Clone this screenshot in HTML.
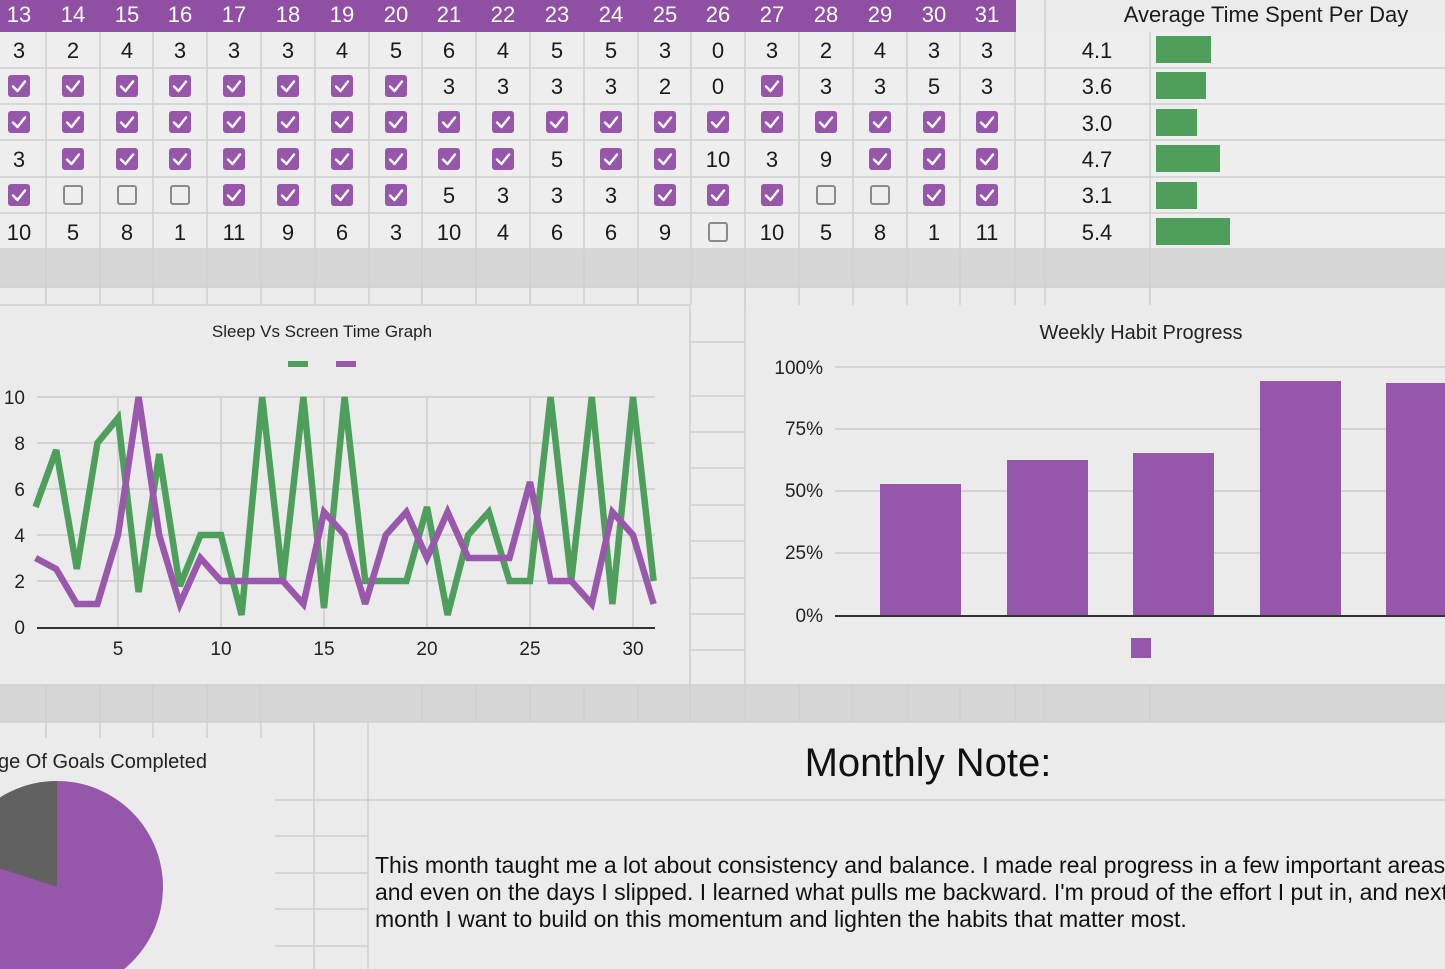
<!DOCTYPE html>
<html><head><meta charset="utf-8"><style>
html,body{margin:0;padding:0;background:#ebebeb;}
svg{display:block;font-family:"Liberation Sans",Arial,sans-serif;}
</style></head><body>
<svg width="1445" height="969" viewBox="0 0 1445 969" xmlns="http://www.w3.org/2000/svg">
<defs>
<symbol id="c" viewBox="0 0 22 22" width="22" height="22"><rect x="0" y="0" width="22" height="22" rx="3" fill="#9656aa"/><path d="M5 11.5 L9.5 16 L17 6.5" stroke="#fff" stroke-width="2.4" fill="none" stroke-linecap="round" stroke-linejoin="round"/></symbol>
<symbol id="e" viewBox="0 0 22 22" width="22" height="22"><rect x="2" y="2" width="18" height="18" rx="2" fill="none" stroke="#8a8a8a" stroke-width="2"/></symbol>
</defs>
<rect width="1445" height="969" fill="#ebebeb"/>
<rect x="0" y="32" width="1445" height="218" fill="#eeeeee"/>
<rect x="0" y="250" width="1445" height="37" fill="#d6d6d6"/>
<rect x="0" y="685" width="1445" height="37" fill="#d6d6d6"/>
<rect x="0" y="0" width="1016" height="32" fill="#8f4fa3"/>
<g stroke="#cfcfcf" stroke-width="1.5">
<line x1="0" y1="68" x2="1445" y2="68"/><line x1="0" y1="104" x2="1445" y2="104"/><line x1="0" y1="140" x2="1445" y2="140"/><line x1="0" y1="177" x2="1445" y2="177"/><line x1="0" y1="213" x2="1445" y2="213"/><line x1="0" y1="249" x2="1445" y2="249"/><line x1="0" y1="287" x2="1445" y2="287"/><line x1="0" y1="305" x2="690" y2="305"/>
<line x1="0" y1="685" x2="1445" y2="685"/><line x1="0" y1="722" x2="1445" y2="722"/><line x1="275" y1="800" x2="1445" y2="800"/>
<line x1="275" y1="836" x2="368" y2="836"/><line x1="275" y1="873" x2="368" y2="873"/><line x1="275" y1="909" x2="368" y2="909"/><line x1="275" y1="946" x2="368" y2="946"/>
<line x1="690" y1="342" x2="745" y2="342"/><line x1="690" y1="396" x2="745" y2="396"/><line x1="690" y1="432" x2="745" y2="432"/><line x1="690" y1="468" x2="745" y2="468"/><line x1="690" y1="505" x2="745" y2="505"/><line x1="690" y1="541" x2="745" y2="541"/><line x1="690" y1="578" x2="745" y2="578"/><line x1="690" y1="614" x2="745" y2="614"/><line x1="690" y1="650" x2="745" y2="650"/>
<line x1="1045" y1="0" x2="1045" y2="305"/><line x1="1150" y1="32" x2="1150" y2="305"/>
<line x1="690" y1="305" x2="690" y2="722"/><line x1="745" y1="287" x2="745" y2="722"/><line x1="368" y1="722" x2="368" y2="969"/><line x1="314" y1="722" x2="314" y2="969"/>
<line x1="1150" y1="685" x2="1150" y2="722"/><line x1="1045" y1="685" x2="1045" y2="722"/>
</g>
<g stroke="#cfcfcf" stroke-width="1.5">
<line x1="46" y1="32" x2="46" y2="305"/><line x1="100" y1="32" x2="100" y2="305"/><line x1="153" y1="32" x2="153" y2="305"/><line x1="207" y1="32" x2="207" y2="305"/><line x1="261" y1="32" x2="261" y2="305"/><line x1="315" y1="32" x2="315" y2="305"/><line x1="369" y1="32" x2="369" y2="305"/><line x1="422" y1="32" x2="422" y2="305"/><line x1="476" y1="32" x2="476" y2="305"/><line x1="530" y1="32" x2="530" y2="305"/><line x1="584" y1="32" x2="584" y2="305"/><line x1="638" y1="32" x2="638" y2="305"/><line x1="691" y1="32" x2="691" y2="305"/><line x1="745" y1="32" x2="745" y2="305"/><line x1="799" y1="32" x2="799" y2="305"/><line x1="853" y1="32" x2="853" y2="305"/><line x1="907" y1="32" x2="907" y2="305"/><line x1="960" y1="32" x2="960" y2="305"/><line x1="1015" y1="32" x2="1015" y2="305"/>
<line x1="46" y1="685" x2="46" y2="738"/><line x1="100" y1="685" x2="100" y2="738"/><line x1="153" y1="685" x2="153" y2="738"/><line x1="207" y1="685" x2="207" y2="738"/><line x1="261" y1="685" x2="261" y2="738"/><line x1="799" y1="685" x2="799" y2="722"/><line x1="853" y1="685" x2="853" y2="722"/><line x1="907" y1="685" x2="907" y2="722"/><line x1="960" y1="685" x2="960" y2="722"/><line x1="1015" y1="685" x2="1015" y2="722"/><line x1="422" y1="685" x2="422" y2="722"/><line x1="476" y1="685" x2="476" y2="722"/><line x1="530" y1="685" x2="530" y2="722"/><line x1="584" y1="685" x2="584" y2="722"/><line x1="638" y1="685" x2="638" y2="722"/>
</g>
<g fill="#fff" font-size="22" text-anchor="middle">
<text x="19" y="22">13</text><text x="73" y="22">14</text><text x="127" y="22">15</text><text x="180" y="22">16</text><text x="234" y="22">17</text><text x="288" y="22">18</text><text x="342" y="22">19</text><text x="396" y="22">20</text><text x="449" y="22">21</text><text x="503" y="22">22</text><text x="557" y="22">23</text><text x="611" y="22">24</text><text x="665" y="22">25</text><text x="718" y="22">26</text><text x="772" y="22">27</text><text x="826" y="22">28</text><text x="880" y="22">29</text><text x="934" y="22">30</text><text x="987" y="22">31</text>
</g>
<text x="1266" y="22" font-size="22" text-anchor="middle" fill="#1a1a1a">Average Time Spent Per Day</text>
<g fill="#1a1a1a" font-size="22" text-anchor="middle">
<text x="19" y="58">3</text><text x="73" y="58">2</text><text x="127" y="58">4</text><text x="180" y="58">3</text><text x="234" y="58">3</text><text x="288" y="58">3</text><text x="342" y="58">4</text><text x="396" y="58">5</text><text x="449" y="58">6</text><text x="503" y="58">4</text><text x="557" y="58">5</text><text x="611" y="58">5</text><text x="665" y="58">3</text><text x="718" y="58">0</text><text x="772" y="58">3</text><text x="826" y="58">2</text><text x="880" y="58">4</text><text x="934" y="58">3</text><text x="987" y="58">3</text>
<text x="449" y="94">3</text><text x="503" y="94">3</text><text x="557" y="94">3</text><text x="611" y="94">3</text><text x="665" y="94">2</text><text x="718" y="94">0</text><text x="826" y="94">3</text><text x="880" y="94">3</text><text x="934" y="94">5</text><text x="987" y="94">3</text>
<text x="19" y="167">3</text><text x="557" y="167">5</text><text x="718" y="167">10</text><text x="772" y="167">3</text><text x="826" y="167">9</text>
<text x="449" y="203">5</text><text x="503" y="203">3</text><text x="557" y="203">3</text><text x="611" y="203">3</text>
<text x="19" y="240">10</text><text x="73" y="240">5</text><text x="127" y="240">8</text><text x="180" y="240">1</text><text x="234" y="240">11</text><text x="288" y="240">9</text><text x="342" y="240">6</text><text x="396" y="240">3</text><text x="449" y="240">10</text><text x="503" y="240">4</text><text x="557" y="240">6</text><text x="611" y="240">6</text><text x="665" y="240">9</text><text x="772" y="240">10</text><text x="826" y="240">5</text><text x="880" y="240">8</text><text x="934" y="240">1</text><text x="987" y="240">11</text>
<text x="1097" y="58">4.1</text><text x="1097" y="94">3.6</text><text x="1097" y="131">3.0</text><text x="1097" y="167">4.7</text><text x="1097" y="203">3.1</text><text x="1097" y="240">5.4</text>
</g>
<g>
<use href="#c" x="8" y="75"/><use href="#c" x="62" y="75"/><use href="#c" x="116" y="75"/><use href="#c" x="169" y="75"/><use href="#c" x="223" y="75"/><use href="#c" x="277" y="75"/><use href="#c" x="331" y="75"/><use href="#c" x="385" y="75"/><use href="#c" x="761" y="75"/>
<use href="#c" x="8" y="111"/><use href="#c" x="62" y="111"/><use href="#c" x="116" y="111"/><use href="#c" x="169" y="111"/><use href="#c" x="223" y="111"/><use href="#c" x="277" y="111"/><use href="#c" x="331" y="111"/><use href="#c" x="385" y="111"/><use href="#c" x="438" y="111"/><use href="#c" x="492" y="111"/><use href="#c" x="546" y="111"/><use href="#c" x="600" y="111"/><use href="#c" x="654" y="111"/><use href="#c" x="707" y="111"/><use href="#c" x="761" y="111"/><use href="#c" x="815" y="111"/><use href="#c" x="869" y="111"/><use href="#c" x="923" y="111"/><use href="#c" x="976" y="111"/>
<use href="#c" x="62" y="148"/><use href="#c" x="116" y="148"/><use href="#c" x="169" y="148"/><use href="#c" x="223" y="148"/><use href="#c" x="277" y="148"/><use href="#c" x="331" y="148"/><use href="#c" x="385" y="148"/><use href="#c" x="438" y="148"/><use href="#c" x="492" y="148"/><use href="#c" x="600" y="148"/><use href="#c" x="654" y="148"/><use href="#c" x="869" y="148"/><use href="#c" x="923" y="148"/><use href="#c" x="976" y="148"/>
<use href="#c" x="8" y="184"/><use href="#e" x="62" y="184"/><use href="#e" x="116" y="184"/><use href="#e" x="169" y="184"/><use href="#c" x="223" y="184"/><use href="#c" x="277" y="184"/><use href="#c" x="331" y="184"/><use href="#c" x="385" y="184"/><use href="#c" x="654" y="184"/><use href="#c" x="707" y="184"/><use href="#c" x="761" y="184"/><use href="#e" x="815" y="184"/><use href="#e" x="869" y="184"/><use href="#c" x="923" y="184"/><use href="#c" x="976" y="184"/>
<use href="#e" x="707" y="221"/>
</g>
<g fill="#4f9f5c">
<rect x="1156" y="36" width="55" height="27"/><rect x="1156" y="72" width="50" height="27"/><rect x="1156" y="109" width="41" height="27"/><rect x="1156" y="145" width="64" height="27"/><rect x="1156" y="182" width="41" height="27"/><rect x="1156" y="218" width="74" height="27"/>
</g>

<text x="322" y="337" font-size="17" text-anchor="middle" fill="#222">Sleep Vs Screen Time Graph</text>
<rect x="288" y="361" width="20" height="6" fill="#4f9f5c"/><rect x="336" y="361" width="20" height="6" fill="#9a58ad"/>
<g stroke="#cccccc" stroke-width="1.5">
<line x1="37" y1="397" x2="655" y2="397"/><line x1="37" y1="443" x2="655" y2="443"/><line x1="37" y1="489" x2="655" y2="489"/><line x1="37" y1="535" x2="655" y2="535"/><line x1="37" y1="581" x2="655" y2="581"/>
<line x1="118" y1="397" x2="118" y2="627"/><line x1="221" y1="397" x2="221" y2="627"/><line x1="324" y1="397" x2="324" y2="627"/><line x1="427" y1="397" x2="427" y2="627"/><line x1="530" y1="397" x2="530" y2="627"/><line x1="633" y1="397" x2="633" y2="627"/>
</g>
<line x1="37" y1="628" x2="655" y2="628" stroke="#333" stroke-width="2"/>
<g font-size="19" fill="#222" text-anchor="end">
<text x="25" y="404">10</text><text x="25" y="450">8</text><text x="25" y="496">6</text><text x="25" y="542">4</text><text x="25" y="588">2</text><text x="25" y="634">0</text>
</g>
<g font-size="19" fill="#222" text-anchor="middle">
<text x="118" y="655">5</text><text x="221" y="655">10</text><text x="324" y="655">15</text><text x="427" y="655">20</text><text x="530" y="655">25</text><text x="633" y="655">30</text>
</g>
<polyline fill="none" stroke="#4f9f5c" stroke-width="6.5" stroke-linejoin="miter" stroke-miterlimit="3" points="35.6,507 56.2,450 76.8,569 97.4,443 118,418 138.6,592 159.2,454 179.8,586 200.4,535 221,535 241.6,615 262.2,397 282.8,581 303.4,397 324,608 344.6,397 365.2,581 385.8,581 406.4,581 427,507 447.6,615 468.2,535 488.8,512 509.4,581 530,581 550.6,397 571.2,581 591.8,397 612.4,604 633,397 653.6,581"/>
<polyline fill="none" stroke="#9a58ad" stroke-width="6.5" stroke-linejoin="miter" stroke-miterlimit="3" points="35.6,558 56.2,569 76.8,604 97.4,604 118,535 138.6,397 159.2,535 179.8,604 200.4,558 221,581 241.6,581 262.2,581 282.8,581 303.4,604 324,512 344.6,535 365.2,604 385.8,535 406.4,512 427,558 447.6,512 468.2,558 488.8,558 509.4,558 530,482 550.6,581 571.2,581 591.8,604 612.4,512 633,535 653.6,604"/>

<text x="1141" y="339" font-size="20" text-anchor="middle" fill="#222">Weekly Habit Progress</text>
<g stroke="#cccccc" stroke-width="1.5">
<line x1="835" y1="367" x2="1445" y2="367"/><line x1="835" y1="429" x2="1445" y2="429"/><line x1="835" y1="491" x2="1445" y2="491"/><line x1="835" y1="553" x2="1445" y2="553"/>
</g>
<line x1="835" y1="616" x2="1445" y2="616" stroke="#333" stroke-width="2"/>
<g font-size="19" fill="#222" text-anchor="end">
<text x="823" y="374">100%</text><text x="823" y="435">75%</text><text x="823" y="497">50%</text><text x="823" y="559">25%</text><text x="823" y="622">0%</text>
</g>
<g fill="#9656aa">
<rect x="880" y="484" width="81" height="131"/><rect x="1007" y="460" width="81" height="155"/><rect x="1133" y="453" width="81" height="162"/><rect x="1260" y="381" width="81" height="234"/><rect x="1386" y="383" width="81" height="232"/>
<rect x="1131" y="638" width="20" height="20"/>
</g>

<text x="207" y="768" font-size="20" text-anchor="end" fill="#222">Percentage Of Goals Completed</text>
<ellipse cx="57" cy="887" rx="106" ry="106" fill="#9656aa"/>
<path d="M57 887 L57 781 A106 106 0 0 0 -44 854 Z" fill="#616161"/>

<text x="928" y="776" font-size="40" text-anchor="middle" fill="#111">Monthly Note:</text>
<g font-size="23" fill="#111">
<text x="375" y="873">This month taught me a lot about consistency and balance. I made real progress in a few important areas</text>
<text x="375" y="900">and even on the days I slipped. I learned what pulls me backward. I'm proud of the effort I put in, and next</text>
<text x="375" y="927">month I want to build on this momentum and lighten the habits that matter most.</text>
</g>
</svg>
</body></html>
